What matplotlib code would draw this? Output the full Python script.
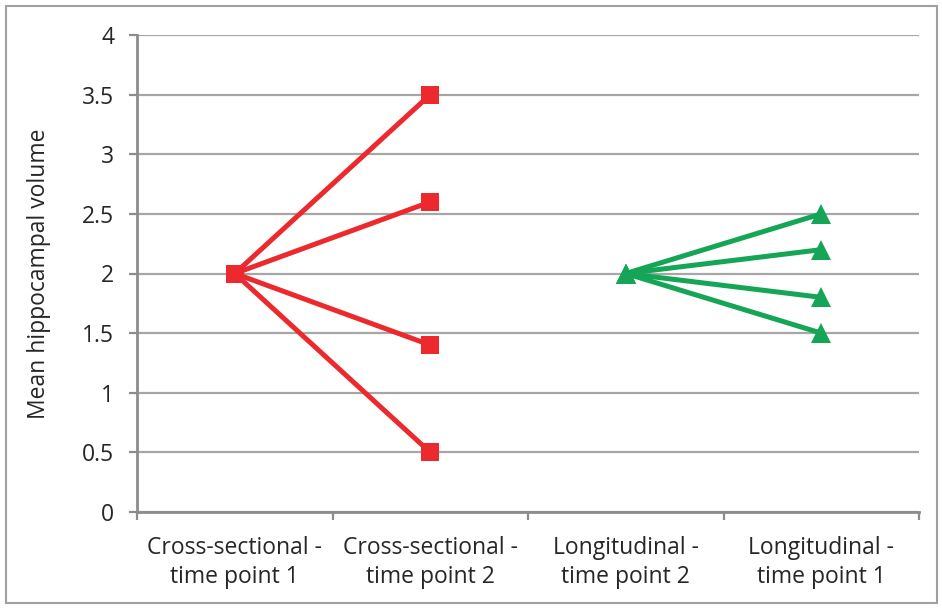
import numpy as np
import matplotlib
matplotlib.use("Agg")
import matplotlib.pyplot as plt
from matplotlib.patches import Rectangle

plt.rcParams['font.family'] = ['Open Sans', 'DejaVu Sans']

categories = ["Cross-sectional -\ntime point 1", "Cross-sectional -\ntime point 2",
              "Longitudinal -\ntime point 2", "Longitudinal -\ntime point 1"]

nan = np.nan
cross_series = [
    [2.0, 3.5, nan, nan],
    [2.0, 2.6, nan, nan],
    [2.0, 1.4, nan, nan],
    [2.0, 0.5, nan, nan],
]
long_series = [
    [nan, nan, 2.0, 2.5],
    [nan, nan, 2.0, 2.2],
    [nan, nan, 2.0, 1.8],
    [nan, nan, 2.0, 1.5],
]
y_ticks = [0, 0.5, 1, 1.5, 2, 2.5, 3, 3.5, 4]
y_tick_labels = ["0", "0.5", "1", "1.5", "2", "2.5", "3", "3.5", "4"]

RED = "#EC2A2E"
GREEN = "#15A556"
GRID = "#A6A6A6"
AXIS = "#8C8C8C"
TEXT = "#262626"
FS = 16.5

W, H = 942, 608
fig = plt.figure(figsize=(W / 100, H / 100), dpi=100)
ax = fig.add_axes([137 / W, 1 - 512 / H, (919 - 137) / W, (512 - 35) / H])

x = np.arange(len(categories))
for s in cross_series:
    ax.plot(x, s, color=RED, lw=3.6, marker='s', markersize=13.5,
            markeredgewidth=0, zorder=3)
for s in long_series:
    ax.plot(x, s, color=GREEN, lw=3.6, marker='^', markersize=15,
            markeredgewidth=0, zorder=3)

ax.set_xlim(-0.5, len(categories) - 0.5)
ax.set_ylim(0, 4)
ax.set_yticks(y_ticks)
ax.set_yticklabels(y_tick_labels)
ax.yaxis.grid(True, color=GRID, lw=1.6)
ax.set_axisbelow(True)

# tick marks sit between categories; labels sit at category centres
ax.set_xticks(np.arange(-0.5, len(categories), 1.0))
ax.set_xticklabels([])
ax.set_xticks(x, minor=True)
ax.set_xticklabels(categories, minor=True, fontsize=FS, color=TEXT, linespacing=1.3)
ax.tick_params(axis='x', which='major', length=6, width=1.6, color=AXIS, direction='out')
ax.tick_params(axis='x', which='minor', length=0, pad=17)
ax.tick_params(axis='y', length=5.5, width=1.6, color=AXIS, labelsize=FS,
               labelcolor=TEXT, pad=11)

for side in ['top', 'right']:
    ax.spines[side].set_visible(False)
for side in ['left', 'bottom']:
    ax.spines[side].set_color(AXIS)
    ax.spines[side].set_linewidth(2.0)

ax.set_ylabel("Mean hippocampal volume", fontsize=FS, color=TEXT, labelpad=22)

fig.patches.append(Rectangle((5.5 / W, 5.5 / H), 1 - 11 / W, 1 - 11 / H,
                             transform=fig.transFigure, fill=False,
                             edgecolor="#A0A0A0", lw=1.5))

fig.savefig("out.png", dpi=100)
